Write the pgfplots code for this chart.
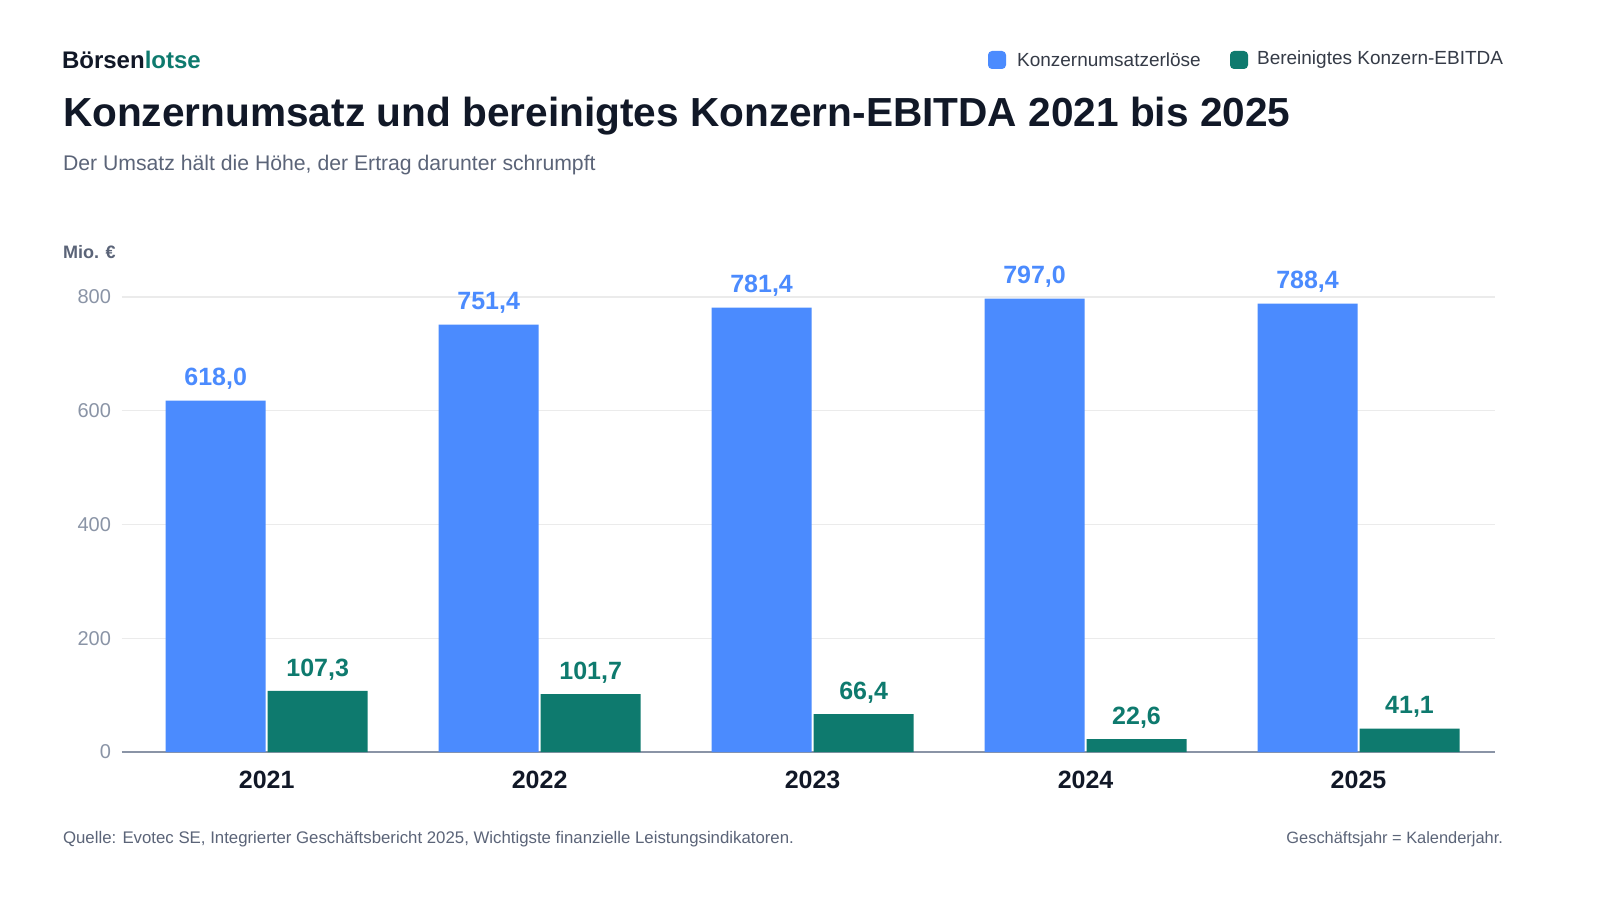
\documentclass[border=0pt]{standalone}
\usepackage{pgfplots}
\pgfplotsset{compat=1.18}
\usepackage{fontspec}
\setmainfont{Liberation Sans}
\definecolor{cblue}{HTML}{4B8BFE}
\definecolor{cgreen}{HTML}{0E7A6E}
\definecolor{ctick}{HTML}{8A94A6}
\definecolor{ctitle}{HTML}{111827}
\definecolor{csub}{HTML}{5B6478}
\begin{document}
\begin{tikzpicture}[x=0.5pt,y=0.5pt]
\useasboundingbox (0,0) rectangle (1600,900);
\path[fill=white] (0,0) rectangle (1600,900);
\begin{axis}[at={(61pt,74pt)},anchor=south west,scale only axis,
  width=686.5pt,height=227.5pt,
  xmin=-0.53,xmax=4.5,ymin=0,ymax=800,clip=false,
  xtick={0,1,2,3,4},xticklabels={2021,2022,2023,2024,2025},
  ytick={0,200,400,600,800},
  ymajorgrids,grid style={draw=black!8,line width=0.6pt},
  axis x line*=bottom,axis y line*=left,
  y axis line style={draw=none},
  x axis line style={draw=ctick,line width=0.8pt,-},
  major tick length=0pt,
  xticklabel style={font=\bfseries\fontsize{12.5}{14}\selectfont,text=ctitle,yshift=-6pt},
  yticklabel style={font=\fontsize{10}{12}\selectfont,text=ctick,xshift=-2pt},
  /pgf/number format/assume math mode=true,
  ybar,bar width=50pt,
  nodes near coords,
  nodes near coords style={font=\bfseries\fontsize{12.5}{14}\selectfont,yshift=2pt,
    /pgf/number format/fixed,/pgf/number format/fixed zerofill,/pgf/number format/precision=1,/pgf/number format/use comma,/pgf/number format/1000 sep={},/pgf/number format/assume math mode=true},
]
\addplot[bar shift=-25.5pt,fill=cblue,draw=none,nodes near coords style={text=cblue}] coordinates {(0,618.0)(1,751.4)(2,781.4)(3,797.0)(4,788.4)};
\addplot[bar shift=25.5pt,fill=cgreen,draw=none,nodes near coords style={text=cgreen}] coordinates {(0,107.3)(1,101.7)(2,66.4)(3,22.6)(4,41.1)};
\end{axis}
\node[anchor=west,font=\bfseries\fontsize{12}{14}\selectfont] at (55,840) {\textcolor{ctitle}{Börsen}\textcolor{cgreen}{lotse}};
\node[anchor=west,font=\bfseries\fontsize{20.3}{24}\selectfont,text=ctitle] at (56,784) {Konzernumsatz und bereinigtes Konzern-EBITDA 2021 bis 2025};
\node[anchor=west,font=\fontsize{10.6}{12}\selectfont,text=csub] at (56,735) {Der Umsatz hält die Höhe, der Ertrag darunter schrumpft};
\node[anchor=west,font=\bfseries\fontsize{9}{11}\selectfont,text=csub] at (56,648) {Mio. €};
\fill[cblue,rounded corners=2pt] (988,831) rectangle (1006,849);
\node[anchor=west,font=\fontsize{9.5}{11}\selectfont,text=ctitle!85] at (1010,840) {Konzernumsatzerlöse};
\fill[cgreen,rounded corners=2pt] (1230,831) rectangle (1248,849);
\node[anchor=west,font=\fontsize{9.5}{11}\selectfont,text=ctitle!85] at (1250,840) {Bereinigtes Konzern-EBITDA};
\node[anchor=west,font=\fontsize{8.4}{10}\selectfont,text=csub] at (56,61) {Quelle: Evotec SE, Integrierter Geschäftsbericht 2025, Wichtigste finanzielle Leistungsindikatoren.};
\node[anchor=east,font=\fontsize{8.2}{10}\selectfont,text=csub] at (1510,61) {Geschäftsjahr = Kalenderjahr.};
\end{tikzpicture}
\end{document}
